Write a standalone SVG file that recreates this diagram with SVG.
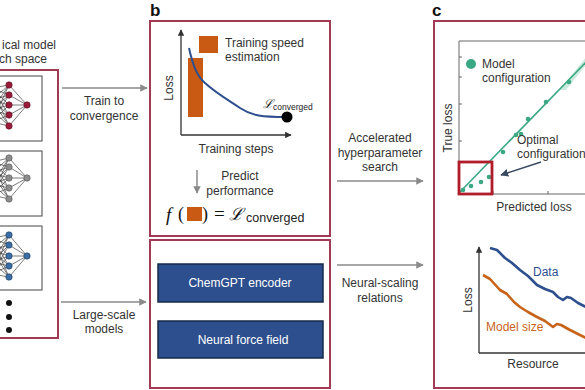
<svg xmlns="http://www.w3.org/2000/svg" width="585" height="390" viewBox="0 0 585 390">
<defs>
<style>
.t{font-family:"Liberation Sans",Arial,sans-serif;font-size:12px;fill:#333}
.tc{text-anchor:middle}
.lab{font-family:"Liberation Sans",Arial,sans-serif;font-size:17px;font-weight:bold;fill:#111}
.frame{fill:none;stroke:#a33a55;stroke-width:2}
.box{fill:#fff;stroke:#444;stroke-width:1}
.conn{stroke:#8a8a8a;stroke-width:1.5;fill:none}
.net{stroke:#444;stroke-width:0.7}
.wb{font-family:"Liberation Sans",Arial,sans-serif;font-size:12px;fill:#fff;text-anchor:middle}
.blue{fill:#2d4f8e;stroke:#16284a;stroke-width:1.5}
.g{fill:#3aa882}
</style>
<marker id="ah" viewBox="0 0 10 10" refX="9" refY="5" markerWidth="5" markerHeight="5" orient="auto"><path d="M0,0L10,5L0,10z" fill="#8a8a8a"/></marker>
<marker id="ahk" viewBox="0 0 10 10" refX="9" refY="5" markerWidth="5" markerHeight="5" orient="auto"><path d="M0,0L10,5L0,10z" fill="#333"/></marker>
<marker id="ahd" viewBox="0 0 10 10" refX="9" refY="5" markerWidth="5" markerHeight="5" orient="auto"><path d="M0,0L10,5L0,10z" fill="#3a4a60"/></marker>
</defs>

<!-- Panel a -->
<g id="panel-a">
<text class="t" x="56" y="49" text-anchor="end">ical model</text>
<text class="t" x="47" y="63" text-anchor="end" font-size="11.5">ch space</text>
<rect class="frame" x="-10" y="70" width="68" height="268"/>
<g id="net1">
<rect class="box" x="-10" y="76" width="52" height="65"/>
<g class="net">
<path d="M-8,88L9,85M-8,88L9,95M-8,88L9,105M-8,88L9,115M-8,88L9,126M-8,100L9,85M-8,100L9,95M-8,100L9,105M-8,100L9,115M-8,100L9,126M-8,110L9,85M-8,110L9,95M-8,110L9,105M-8,110L9,115M-8,110L9,126M-8,122L9,85M-8,122L9,95M-8,122L9,105M-8,122L9,115M-8,122L9,126M9,85L27,105M9,95L27,105M9,105L27,105M9,115L27,105M9,126L27,105"/>
</g>
<g fill="#9b1c3a" stroke="#5a1020" stroke-width="0.6">
<circle cx="9" cy="85" r="3.2"/><circle cx="9" cy="95" r="3.2"/><circle cx="9" cy="105" r="3.2"/><circle cx="9" cy="115" r="3.2"/><circle cx="9" cy="126" r="3.2"/><circle cx="27" cy="105" r="3.2"/>
</g>
</g>
<g id="net2">
<rect class="box" x="-10" y="151" width="52" height="65"/>
<g class="net">
<path d="M-8,162L9,158M-8,162L9,167M-8,162L9,178M-8,162L9,188M-8,162L9,199M-8,173L9,158M-8,173L9,167M-8,173L9,178M-8,173L9,188M-8,173L9,199M-8,184L9,158M-8,184L9,167M-8,184L9,178M-8,184L9,188M-8,184L9,199M-8,195L9,158M-8,195L9,167M-8,195L9,178M-8,195L9,188M-8,195L9,199M9,158L27,178M9,167L27,178M9,178L27,178M9,188L27,178M9,199L27,178"/>
</g>
<g fill="#8c8c8c" stroke="#555" stroke-width="0.6">
<circle cx="9" cy="158" r="3.2"/><circle cx="9" cy="167" r="3.2"/><circle cx="9" cy="178" r="3.2"/><circle cx="9" cy="188" r="3.2"/><circle cx="9" cy="199" r="3.2"/><circle cx="27" cy="178" r="3.2"/>
</g>
</g>
<g id="net3">
<rect class="box" x="-10" y="226" width="52" height="64"/>
<g class="net">
<path d="M-8,238L9,235M-8,238L9,245M-8,238L9,256M-8,238L9,266M-8,238L9,277M-8,250L9,235M-8,250L9,245M-8,250L9,256M-8,250L9,266M-8,250L9,277M-8,262L9,235M-8,262L9,245M-8,262L9,256M-8,262L9,266M-8,262L9,277M-8,274L9,235M-8,274L9,245M-8,274L9,256M-8,274L9,266M-8,274L9,277M9,235L27,256M9,245L27,256M9,256L27,256M9,266L27,256M9,277L27,256"/>
</g>
<g fill="#3a6ea5" stroke="#1d3a5a" stroke-width="0.6">
<circle cx="9" cy="235" r="3.2"/><circle cx="9" cy="245" r="3.2"/><circle cx="9" cy="256" r="3.2"/><circle cx="9" cy="266" r="3.2"/><circle cx="9" cy="277" r="3.2"/><circle cx="27" cy="256" r="3.2"/>
</g>
</g>
<g fill="#111">
<circle cx="9" cy="303" r="3"/><circle cx="9" cy="317" r="3"/><circle cx="9" cy="330" r="3"/>
</g>
</g>

<!-- Connectors -->
<g id="connectors">
<line class="conn" x1="62" y1="88" x2="147" y2="88" marker-end="url(#ah)"/>
<text class="t tc" x="104" y="105">Train to</text>
<text class="t tc" x="104" y="120">convergence</text>
<line class="conn" x1="61" y1="302" x2="146" y2="302" marker-end="url(#ah)"/>
<text class="t tc" x="104" y="319">Large-scale</text>
<text class="t tc" x="104" y="333">models</text>
<line class="conn" x1="337" y1="181" x2="423" y2="181" marker-end="url(#ah)"/>
<text class="t tc" x="380" y="142">Accelerated</text>
<text class="t tc" x="380" y="157">hyperparameter</text>
<text class="t tc" x="380" y="171">search</text>
<line class="conn" x1="337" y1="265" x2="423" y2="265" marker-end="url(#ah)"/>
<text class="t tc" x="380" y="287">Neural-scaling</text>
<text class="t tc" x="380" y="302">relations</text>
</g>

<!-- Panel b -->
<g id="panel-b-top">
<text class="lab" x="150" y="16">b</text>
<rect class="frame" x="150" y="21" width="180" height="215"/>
<rect x="188" y="58" width="15" height="59" fill="#c85a14"/>
<rect x="199" y="36" width="19" height="17" fill="#c85a14"/>
<text class="t" x="225" y="47">Training speed</text>
<text class="t" x="225" y="61">estimation</text>
<line x1="181" y1="135" x2="181" y2="30" stroke="#333" stroke-width="1.3" marker-end="url(#ahk)"/>
<line x1="181" y1="135" x2="291" y2="135" stroke="#333" stroke-width="1.3" marker-end="url(#ahk)"/>
<text font-family="Liberation Sans,Arial,sans-serif" font-size="12" fill="#333" text-anchor="middle" transform="translate(173,88) rotate(-90)">Loss</text>
<path d="M189,48 C193,66 197,76 205,83 C216,93 228,100 240,108 C252,116 262,117 287,117" fill="none" stroke="#2d4f8e" stroke-width="2"/>
<circle cx="287" cy="117" r="5.5" fill="#000"/>
<text x="263" y="108" font-family="DejaVu Serif,serif" font-style="italic" font-size="12" fill="#111">ℒ</text>
<text x="273" y="110" font-family="Liberation Sans,Arial,sans-serif" font-size="8.5" fill="#222">converged</text>
<text class="t tc" x="236" y="153">Training steps</text>
<line class="conn" x1="197" y1="170" x2="197" y2="193" marker-end="url(#ah)"/>
<text class="t tc" x="240" y="180">Predict</text>
<text class="t tc" x="240" y="195">performance</text>
<text x="166" y="221" font-family="Liberation Serif,serif" font-style="italic" font-size="19" fill="#111">f</text>
<text x="178" y="220" font-family="Liberation Serif,serif" font-size="18" fill="#111">(</text>
<rect x="187" y="207" width="15" height="14" fill="#c85a14"/>
<text x="202" y="220" font-family="Liberation Serif,serif" font-size="18" fill="#111">)</text>
<text x="214" y="220" font-family="Liberation Serif,serif" font-size="19" fill="#111">=</text>
<text x="229" y="220" font-family="DejaVu Serif,serif" font-style="italic" font-size="17" fill="#111">ℒ</text>
<text x="246" y="222" font-family="Liberation Sans,Arial,sans-serif" font-size="12.5" fill="#222">converged</text>
</g>
<g id="panel-b-bottom">
<rect class="frame" x="150" y="240" width="180" height="148"/>
<g id="chemgpt">
<rect class="blue" x="158" y="264" width="165" height="38"/>
<text class="wb" x="240" y="287">ChemGPT encoder</text>
</g>
<g id="nff">
<rect class="blue" x="158" y="321" width="165" height="37"/>
<text class="wb" x="243" y="344">Neural force field</text>
</g>
</g>

<!-- Panel c -->
<g id="panel-c">
<text class="lab" x="432" y="16">c</text>
<rect class="frame" x="434" y="21" width="160" height="367"/>
<g id="scatter">
<path d="M459,41 L590,41 M459,41 L459,194 L590,194" fill="none" stroke="#666" stroke-width="1"/>
<path d="M459,57h3M459,77h3M459,104h3M459,141h3M493,194v-3M548,194v-3" stroke="#666" stroke-width="1"/>
<path d="M560,90 L590,52 L590,60 L566,90z" fill="#bfe6d6" opacity="0.8"/>
<line x1="458" y1="194" x2="590" y2="58" stroke="#3aa882" stroke-width="1.6"/>
<g class="g">
<circle cx="463" cy="190" r="2.3"/><circle cx="471" cy="186" r="2.3"/><circle cx="481" cy="182" r="2.3"/><circle cx="489" cy="177" r="2.3"/><circle cx="503" cy="152" r="2.3"/><circle cx="516" cy="135" r="2.3"/><circle cx="521" cy="134" r="2.3"/><circle cx="528" cy="119" r="2.3"/><circle cx="546" cy="102" r="2.3"/><circle cx="569" cy="82" r="2.3"/>
</g>
<rect x="459" y="162" width="33" height="32" fill="none" stroke="#b01c2a" stroke-width="2.8"/>
<circle class="g" cx="471" cy="64" r="5"/>
<text class="t" x="482" y="68">Model</text>
<text class="t" x="482" y="82">configuration</text>
<text class="t tc" transform="translate(452,128) rotate(-90)">True loss</text>
<text class="t" x="517" y="144" font-size="10">Optimal</text>
<text class="t" x="517" y="158" font-size="10">configuration</text>
<line x1="541" y1="162" x2="501" y2="175" stroke="#3a4a60" stroke-width="1.6" marker-end="url(#ahd)"/>
<text class="t tc" x="534" y="211">Predicted loss</text>
</g>
<g id="scaling">
<line x1="479" y1="353" x2="479" y2="247" stroke="#333" stroke-width="1.3" marker-end="url(#ahk)"/>
<line x1="479" y1="353" x2="590" y2="353" stroke="#333" stroke-width="1.3"/>
<path d="M490,248 L497,250 L505,258 L512,263 L520,270 L528,276 L537,285 L545,289 L553,292 L558,297 L563,300 L567,297 L571,298 L578,303 L586,307" fill="none" stroke="#2d4f8e" stroke-width="2.6" stroke-linejoin="round"/>
<path d="M483,275 L490,279 L500,290 L507,294 L514,302 L520,307 L528,312 L537,317 L545,321 L553,327 L557,324 L561,325 L570,330 L578,334 L586,338" fill="none" stroke="#c8631a" stroke-width="2.6" stroke-linejoin="round"/>
<text x="533" y="276" font-family="Liberation Sans,Arial,sans-serif" font-size="12" fill="#2d4f8e">Data</text>
<text x="486" y="331" font-family="Liberation Sans,Arial,sans-serif" font-size="12" fill="#c8631a">Model size</text>
<text class="t tc" transform="translate(472,300) rotate(-90)">Loss</text>
<text class="t tc" x="533" y="368">Resource</text>
</g>
</g>
</svg>
